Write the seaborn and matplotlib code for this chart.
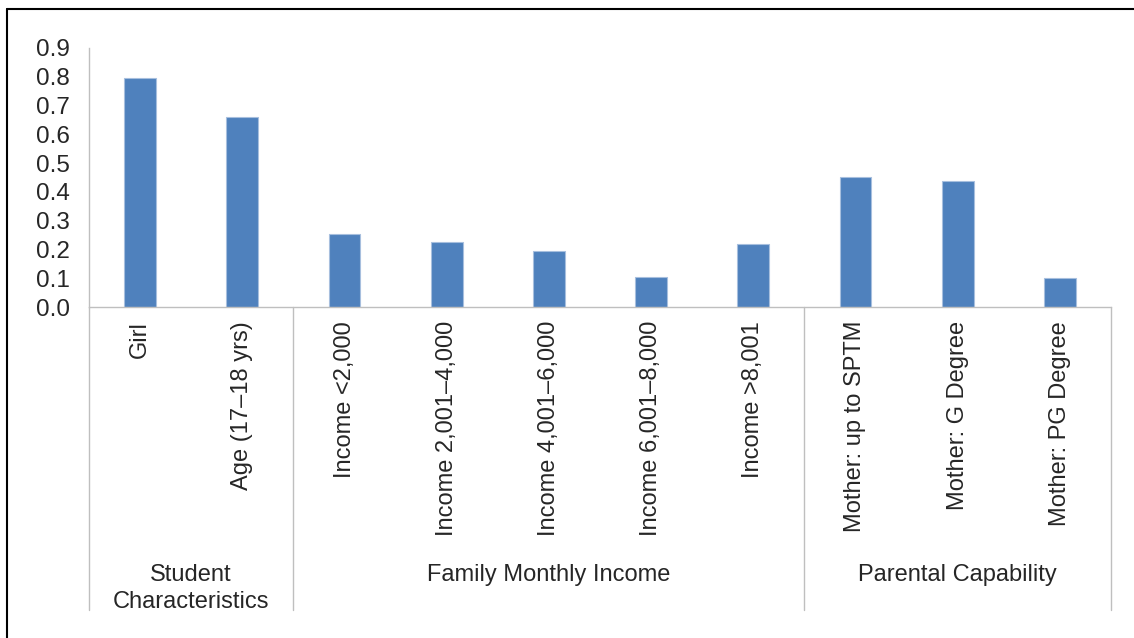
import seaborn as sns
import pandas as pd
import matplotlib.pyplot as plt
import matplotlib.transforms as mtransforms
from matplotlib.lines import Line2D

items = ['Girl', 'Age (17\u201318 yrs)',
         'Income <2,000', 'Income 2,001\u20134,000', 'Income 4,001\u20136,000',
         'Income 6,001\u20138,000', 'Income >8,001',
         'Mother: up to SPTM', 'Mother: G Degree', 'Mother: PG Degree']
values = [0.797, 0.659, 0.255, 0.226, 0.194, 0.105, 0.218, 0.452, 0.438, 0.101]
groups = ['Student\nCharacteristics', 'Family Monthly Income', 'Parental Capability']
group_sizes = [2, 5, 3]
yticks = [0.0, 0.1, 0.2, 0.3, 0.4, 0.5, 0.6, 0.7, 0.8, 0.9]

df = pd.DataFrame({'item': items, 'value': values})

sns.set_style('white')
plt.rcParams['font.family'] = ['Liberation Sans', 'DejaVu Sans']
plt.rcParams['font.size'] = 17

fig = plt.figure(figsize=(11.34, 6.38), dpi=100)
ax = fig.add_axes([89/1134, 1-307/638, (1111-89)/1134, 259/638])

sns.barplot(data=df, x='item', y='value', color='#4F81BD', saturation=1,
            width=0.31, edgecolor='#A7BFDE', linewidth=0.8, ax=ax)

grey = '#BFBFBF'
ax.set_xlim(-0.5, len(items) - 0.5)
ax.set_ylim(0, 0.9)
ax.set_yticks(yticks)
ax.set_yticklabels([f'{v:.1f}' for v in yticks])
ax.set_xlabel('')
ax.set_ylabel('')
ax.tick_params(axis='y', length=5, color=grey, width=1, pad=9, labelsize=17.5)
ax.tick_params(axis='x', length=0, pad=10, labelsize=17)
for lab in ax.get_xticklabels():
    lab.set_rotation(90)
    lab.set_va('top')
    lab.set_ha('center')
for s in ['top', 'right']:
    ax.spines[s].set_visible(False)
for s in ['left', 'bottom']:
    ax.spines[s].set_color(grey)
    ax.spines[s].set_linewidth(1)

# group separators below the axis
trans = mtransforms.blended_transform_factory(ax.transData, ax.transAxes)
bottom = (307 - 610) / 259
edges = [-0.5]
for n in group_sizes:
    edges.append(edges[-1] + n)
for e in edges:
    ax.plot([e, e], [0, bottom], color=grey, lw=1, transform=trans, clip_on=False)

label_y = (307 - 564) / 259
for i, g in enumerate(groups):
    cx = (edges[i] + edges[i + 1]) / 2
    ax.text(cx, label_y, g, transform=trans, ha='center', va='top',
            fontsize=17, linespacing=1.3, multialignment='center')

# outer frame (left and top edges visible)
fig.add_artist(Line2D([7/1134, 7/1134], [0, 1-9/638], color='black', lw=1.5,
                      transform=fig.transFigure))
fig.add_artist(Line2D([7/1134, 1], [1-9/638, 1-9/638], color='black', lw=1.5,
                      transform=fig.transFigure))

fig.savefig('out.png', dpi=100)
